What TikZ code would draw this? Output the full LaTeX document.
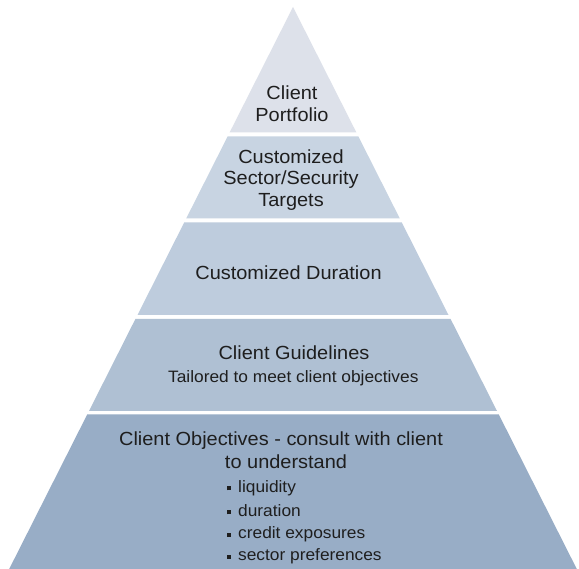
\documentclass[tikz,border=0pt]{standalone}
\usepackage{fontspec}
\setmainfont{Liberation Sans}[FakeStretch=1.05]
\definecolor{bandA}{HTML}{DDE1EA}
\definecolor{bandB}{HTML}{C8D4E2}
\definecolor{bandC}{HTML}{BECCDD}
\definecolor{bandD}{HTML}{AFC0D3}
\definecolor{bandE}{HTML}{98ADC6}
\definecolor{txt}{HTML}{1E1E1E}
\begin{document}
\begin{tikzpicture}[x=1pt,y=-1pt,
  lbl/.style={anchor=base, inner sep=0pt, text=txt, font=\fontsize{19}{22}\selectfont},
  sublbl/.style={lbl, font=\fontsize{16.5}{20}\selectfont},
  itemlbl/.style={sublbl, anchor=base west}]
\useasboundingbox (0,0) rectangle (579,569);
\fill[white] (0,0) rectangle (579,569);
% pyramid bands
\fill[bandA] (293,7) -- (356.4,132.5) -- (229.6,132.5) -- cycle;
\fill[bandB] (227.6,136.5) -- (358.4,136.5) -- (399.8,218.5) -- (186.2,218.5) -- cycle;
\fill[bandC] (184.2,222.5) -- (401.8,222.5) -- (448.5,315) -- (137.5,315) -- cycle;
\fill[bandD] (135.4,319) -- (450.6,319) -- (497,411) -- (89,411) -- cycle;
\fill[bandE] (87.2,414.5) -- (498.8,414.5) -- (576.8,569) -- (9.2,569) -- cycle;
% texts
\node[lbl] (t1a) at (292,99.3) {Client};
\node[lbl] (t1b) at (292,121.7) {Portfolio};
\node[lbl] (t2a) at (291,163.3) {Customized};
\node[lbl] (t2b) at (291,185) {Sector/Security};
\node[lbl] (t2c) at (291,206.7) {Targets};
\node[lbl] (t3) at (288.5,279.3) {Customized Duration};
\node[lbl] (t4a) at (294,360) {Client Guidelines};
\node[sublbl] (t4b) at (293.3,382.7) {Tailored to meet client objectives};
\node[lbl] (t5a) at (281,446) {Client Objectives - consult with client};
\node[lbl] (t5b) at (286,468.3) {to understand};
\node[itemlbl] (i1) at (226.5,492.7) {\rule[2.2pt]{4pt}{4pt}\hspace{7.5pt}liquidity};
\node[itemlbl] (i2) at (226.5,516.7) {\rule[2.2pt]{4pt}{4pt}\hspace{7.5pt}duration};
\node[itemlbl] (i3) at (226.5,539) {\rule[2.2pt]{4pt}{4pt}\hspace{7.5pt}credit exposures};
\node[itemlbl] (i4) at (226.5,561) {\rule[2.2pt]{4pt}{4pt}\hspace{7.5pt}sector preferences};
\end{tikzpicture}
\end{document}
